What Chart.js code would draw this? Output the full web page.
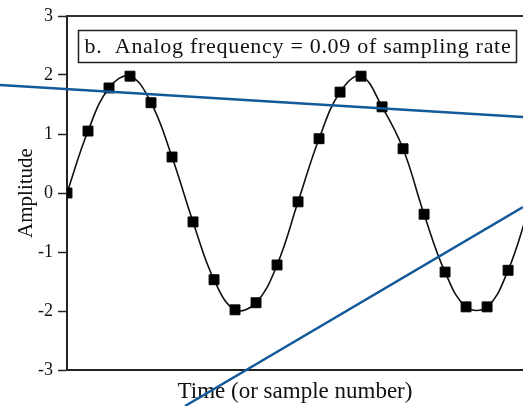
<!DOCTYPE html>
<html>
<head>
<meta charset="utf-8">
<script src="https://cdn.jsdelivr.net/npm/chart.js@4.4.1/dist/chart.umd.min.js"></script>
<style>
    html, body { margin: 0; padding: 0; background: #fff; }
    #wrap { width: 523px; height: 406px; }
</style>
</head>
<body>
<div id="wrap"><canvas id="chart"></canvas></div>
<script>
// sample number and amplitude
const sampleIndex = [0, 1, 2, 3, 4, 5, 6, 7, 8, 9, 10, 11, 12, 13, 14, 15, 16, 17, 18, 19, 20, 21, 22];
const sampleValues = [0, 1.05, 1.78, 1.98, 1.53, 0.61, -0.49, -1.47, -1.98, -1.86, -1.22, -0.15,
    0.92, 1.71, 1.98, 1.46, 0.75, -0.36, -1.34, -1.93, -1.93, -1.31, -0.25];

// the two blue strokes, endpoints in sample/amplitude units
const blueLineAX = [-3.19, 21.71];
const blueLineAY = [1.83, 1.29];
const blueLineBX = [5.62, 21.71];
const blueLineBY = [-3.61, -0.24];

const yTicks = [-3, -2, -1, 0, 1, 2, 3];
const panelLabel = 'b.  Analog frequency = 0.09 of sampling rate';

const SERIF = '"Liberation Serif", "Times New Roman", serif';
const BLUE = '#135a9a';

const zip = (xs, ys) => xs.map((x, i) => ({ x: x, y: ys[i] }));

const framePlugin = {
    id: 'frame',
    afterDraw(chart) {
        const { ctx, chartArea: a } = chart;
        ctx.save();
        // top edge of the plot frame
        ctx.strokeStyle = '#333';
        ctx.lineWidth = 2;
        ctx.beginPath();
        ctx.moveTo(a.left, a.top);
        ctx.lineTo(a.right, a.top);
        ctx.stroke();

        // caption box
        const bx = a.left + 11.5, by = a.top + 14.5, bw = 438, bh = 32;
        ctx.fillStyle = '#fff';
        ctx.fillRect(bx, by, bw, bh);
        ctx.strokeStyle = '#222';
        ctx.lineWidth = 1.5;
        ctx.strokeRect(bx, by, bw, bh);
        ctx.fillStyle = '#111';
        ctx.font = '22px ' + SERIF;
        ctx.letterSpacing = '0.7px';
        ctx.textBaseline = 'middle';
        ctx.fillText(panelLabel, bx + 6, by + bh / 2 + 1);
        ctx.restore();
    },
};

new Chart(document.getElementById('chart'), {
    type: 'line',
    data: {
        datasets: [
            {
                label: 'signal',
                data: zip(sampleIndex, sampleValues),
                borderColor: '#111',
                borderWidth: 1.6,
                tension: 0.4,
                pointStyle: 'rect',
                pointRadius: 7,
                pointBackgroundColor: '#000',
                pointBorderColor: '#000',
                pointBorderWidth: 1,
                order: 2,
            },
            {
                label: 'blueA',
                data: zip(blueLineAX, blueLineAY),
                borderColor: BLUE,
                borderWidth: 2.5,
                pointRadius: 0,
                clip: false,
                order: 1,
            },
            {
                label: 'blueB',
                data: zip(blueLineBX, blueLineBY),
                borderColor: BLUE,
                borderWidth: 2.5,
                pointRadius: 0,
                clip: false,
                order: 1,
            },
        ],
    },
    options: {
        responsive: true,
        maintainAspectRatio: false,
        animation: false,
        layout: { autoPadding: false, padding: { top: 16, right: 0, bottom: 0, left: 0 } },
        plugins: {
            legend: { display: false },
            tooltip: { enabled: false },
        },
        scales: {
            x: {
                type: 'linear',
                min: 0,
                max: 21.71,
                grid: { display: false },
                border: { display: true, color: '#222', width: 2 },
                ticks: { display: false },
                title: {
                    display: true,
                    text: 'Time (or sample number)',
                    color: '#111',
                    font: { family: SERIF, size: 23 },
                    padding: { top: 0, bottom: 0 },
                },
                afterFit: s => { s.height = 36; },
            },
            y: {
                min: -3,
                max: 3,
                afterBuildTicks: s => { s.ticks = yTicks.map(v => ({ value: v })); },
                grid: {
                    display: true,
                    drawOnChartArea: false,
                    drawTicks: true,
                    tickLength: 9,
                    tickWidth: 1.5,
                    tickColor: '#222',
                },
                border: { display: true, color: '#222', width: 2 },
                ticks: {
                    color: '#111',
                    padding: 5,
                    font: { family: SERIF, size: 18 },
                },
                title: {
                    display: true,
                    text: 'Amplitude',
                    color: '#111',
                    font: { family: SERIF, size: 21 },
                    padding: { top: 14, bottom: 0 },
                },
                afterFit: s => { s.width = 67; },
            },
        },
    },
    plugins: [framePlugin],
});
</script>
</body>
</html>
